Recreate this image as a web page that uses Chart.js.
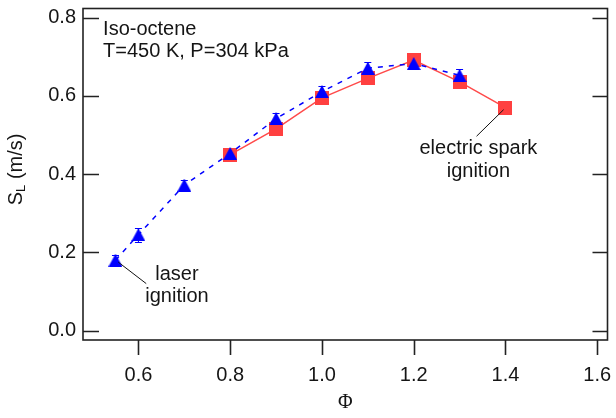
<!DOCTYPE html>
<html>
<head>
<meta charset="utf-8">
<script src="https://cdn.jsdelivr.net/npm/chart.js@4.4.1/dist/chart.umd.min.js"></script>
<style>
  html, body { margin: 0; padding: 0; background: #fff; }
  #wrap { width: 616px; height: 418px; }
</style>
</head>
<body>
<div id="wrap"><canvas id="flameChart" width="616" height="418"></canvas></div>
<script>
// laser ignition (blue triangles, dashed)
var phiLaser = [0.55, 0.6, 0.7, 0.8, 0.9, 1.0, 1.1, 1.2, 1.3];
var slLaser  = [0.180, 0.245, 0.372, 0.453, 0.542, 0.611, 0.671, 0.683, 0.653];
var errLaser = [0.014, 0.018, 0.014, 0.014, 0.015, 0.015, 0.015, 0.014, 0.015];
// electric spark ignition (red squares, solid)
var phiSpark = [0.8, 0.9, 1.0, 1.1, 1.2, 1.3, 1.4];
var slSpark  = [0.450, 0.516, 0.595, 0.645, 0.692, 0.636, 0.570];

var xTicks = [0.6, 0.8, 1.0, 1.2, 1.4, 1.6];
var yTicks = [0.0, 0.2, 0.4, 0.6, 0.8];

// text notes, in data coordinates (x, baseline y of each line)
var noteText  = [['laser', 'ignition'], ['electric spark', 'ignition'], ['Iso-octene', 'T=450 K, P=304 kPa']];
var noteX     = [0.684, 1.341, 0.523];
var noteY     = [[0.130, 0.0737], [0.4506, 0.3916], [0.7554, 0.7005]];
var noteAlign = ['center', 'center', 'left'];
var leaderFrom = [[0.556, 0.175], [1.337, 0.497]];
var leaderTo   = [[0.617, 0.120], [1.396, 0.565]];

var FONT = "'Liberation Sans', Arial, Helvetica, sans-serif";
var INK = '#151515';

function markImg(kind, w, h, color) {
  var c = document.createElement('canvas');
  c.width = w; c.height = h;
  var g = c.getContext('2d');
  g.fillStyle = color;
  g.beginPath();
  if (kind === 'tri') {
    g.moveTo(w / 2, 0); g.lineTo(w, h); g.lineTo(0, h); g.closePath();
  } else {
    g.rect(0, 0, w, h);
  }
  g.fill();
  return c;
}

function pts(xs, ys) {
  return xs.map(function (x, i) { return { x: x, y: ys[i] }; });
}

// error bars under the triangles
var errorBars = {
  id: 'errorBars',
  beforeDatasetsDraw: function (chart) {
    var ctx = chart.ctx, xs = chart.scales.x, ys = chart.scales.y;
    ctx.save();
    ctx.strokeStyle = '#0000ff';
    ctx.lineWidth = 1;
    phiLaser.forEach(function (p, i) {
      var px = xs.getPixelForValue(p);
      var top = Math.round(ys.getPixelForValue(slLaser[i] + errLaser[i])) + 0.5;
      var bot = Math.round(ys.getPixelForValue(slLaser[i] - errLaser[i])) + 0.5;
      ctx.beginPath();
      ctx.moveTo(px, top); ctx.lineTo(px, bot);
      ctx.moveTo(px - 3.5, top); ctx.lineTo(px + 3.5, top);
      ctx.moveTo(px - 3.5, bot); ctx.lineTo(px + 3.5, bot);
      ctx.stroke();
    });
    ctx.restore();
  }
};

// frame with inward y ticks, outward x ticks, notes and y title
var frameAndNotes = {
  id: 'frameAndNotes',
  afterDraw: function (chart) {
    var ctx = chart.ctx, a = chart.chartArea;
    var xs = chart.scales.x, ys = chart.scales.y;
    ctx.save();
    ctx.strokeStyle = '#222';
    ctx.lineWidth = 1.6;
    ctx.strokeRect(a.left, a.top, a.right - a.left, a.bottom - a.top);
    ctx.beginPath();
    yTicks.forEach(function (v) {
      var py = Math.round(ys.getPixelForValue(v)) + 0.5;
      ctx.moveTo(a.left, py); ctx.lineTo(a.left + 16, py);
      ctx.moveTo(a.right, py); ctx.lineTo(a.right - 15, py);
    });
    xTicks.forEach(function (v) {
      var px = Math.round(xs.getPixelForValue(v)) + 0.5;
      ctx.moveTo(px, a.bottom); ctx.lineTo(px, a.bottom + 15);
    });
    ctx.stroke();

    // leader lines
    ctx.strokeStyle = '#111';
    ctx.lineWidth = 1;
    ctx.beginPath();
    leaderFrom.forEach(function (f, i) {
      ctx.moveTo(xs.getPixelForValue(f[0]), ys.getPixelForValue(f[1]));
      ctx.lineTo(xs.getPixelForValue(leaderTo[i][0]), ys.getPixelForValue(leaderTo[i][1]));
    });
    ctx.stroke();

    // notes
    ctx.fillStyle = INK;
    ctx.font = '20px ' + FONT;
    ctx.textBaseline = 'alphabetic';
    noteText.forEach(function (lines, i) {
      ctx.textAlign = noteAlign[i];
      lines.forEach(function (t, j) {
        ctx.fillText(t, xs.getPixelForValue(noteX[i]), ys.getPixelForValue(noteY[i][j]));
      });
    });

    // y axis title: S_L (m/s)
    var cy = (a.top + a.bottom) / 2;
    ctx.translate(a.left - 61, cy + 31);
    ctx.rotate(-Math.PI / 2);
    ctx.textAlign = 'left';
    ctx.font = '20px ' + FONT;
    ctx.fillText('S', 0, 0);
    var w = ctx.measureText('S').width;
    ctx.font = '13px ' + FONT;
    ctx.fillText('L', w, 3);
    w += ctx.measureText('L').width;
    ctx.font = '20px ' + FONT;
    ctx.fillText(' (m/s)', w, 0);
    ctx.restore();
  }
};

new Chart(document.getElementById('flameChart').getContext('2d'), {
  type: 'scatter',
  data: {
    datasets: [
      {
        label: 'laser ignition',
        data: pts(phiLaser, slLaser),
        showLine: true,
        borderColor: '#0000ff',
        borderWidth: 1.5,
        borderDash: [5, 6],
        pointStyle: markImg('tri', 14, 13, '#0000ff'),
        pointRadius: 7,
        clip: false
      },
      {
        label: 'electric spark ignition',
        data: pts(phiSpark, slSpark),
        showLine: true,
        borderColor: '#ff4a4a',
        borderWidth: 1.5,
        pointStyle: markImg('rect', 14, 14, '#ff4040'),
        pointRadius: 7,
        clip: false
      }
    ]
  },
  plugins: [errorBars, frameAndNotes],
  options: {
    responsive: false,
    animation: false,
    layout: { padding: { top: 5, right: 3, left: 0, bottom: 0 } },
    scales: {
      x: {
        type: 'linear',
        min: 0.4792,
        max: 1.6224,
        grid: { display: false, drawTicks: false },
        border: { display: false },
        afterBuildTicks: function (s) { s.ticks = xTicks.map(function (v) { return { value: v }; }); },
        afterFit: function (s) { s.height = 78; s.paddingLeft = 0; s.paddingRight = 0; },
        ticks: {
          padding: 23,
          maxRotation: 0,
          autoSkip: false,
          color: INK,
          font: { family: FONT, size: 20 },
          callback: function (v) { return Number(v).toFixed(1); }
        },
        title: {
          display: true,
          text: 'Φ',
          color: INK,
          font: { family: "'Liberation Serif', 'DejaVu Serif', serif", size: 20 },
          padding: { top: 0, bottom: 3 }
        }
      },
      y: {
        type: 'linear',
        min: -0.0243,
        max: 0.8238,
        grid: { display: false, drawTicks: false },
        border: { display: false },
        afterBuildTicks: function (s) { s.ticks = yTicks.map(function (v) { return { value: v }; }); },
        afterFit: function (s) { s.width = 83; s.paddingTop = 0; s.paddingBottom = 0; },
        ticks: {
          padding: 7,
          autoSkip: false,
          color: INK,
          font: { family: FONT, size: 20 },
          callback: function (v) { return Number(v).toFixed(1); }
        }
      }
    },
    plugins: {
      legend: { display: false },
      tooltip: { enabled: false }
    }
  }
});
</script>
</body>
</html>
